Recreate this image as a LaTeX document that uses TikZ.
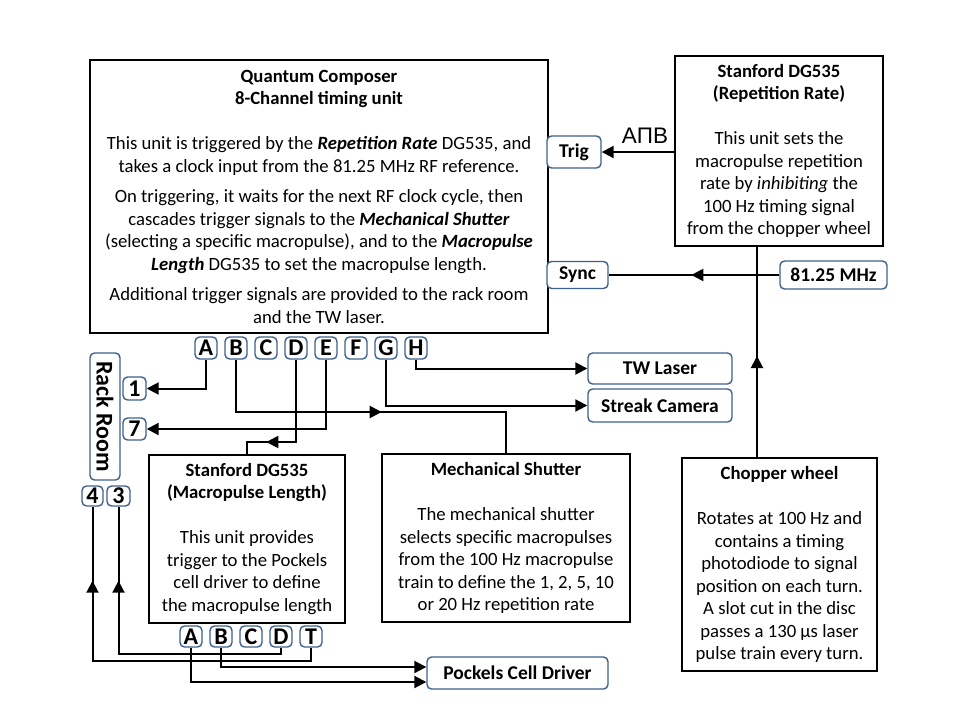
\documentclass[tikz,border=0pt]{standalone}
\usepackage{fontspec}
\setmainfont{Carlito}
\newfontfamily\lsans{Liberation Sans}
\usetikzlibrary{arrows.meta,decorations.markings,calc}
\definecolor{bcol}{RGB}{62,96,140}
\begin{document}
\begin{tikzpicture}[x=1pt,y=-1pt,
 box/.style={draw=black,line width=2pt,inner sep=0pt,align=center,font=\fontsize{18.7}{22.5}\selectfont},
 tag/.style={draw=bcol,line width=1.4pt,rounded corners=4.5pt,fill=white,inner sep=0pt,font=\bfseries\fontsize{19.5}{19.5}\selectfont},
 chan/.style={tag,minimum width=22pt,minimum height=22pt,font=\bfseries\fontsize{24}{24}\selectfont},
 wire/.style={line width=2pt},
 arr/.style={wire,-{Triangle[length=12pt,width=12pt]}},
 midarr/.style={wire,postaction={decorate},decoration={markings,mark=at position #1 with {\arrow{Triangle[length=12pt,width=12pt]}}}},
]
\useasboundingbox (0,0) rectangle (960,720);

% main boxes
\node[box,minimum width=458pt,minimum height=273pt] (QC) at (319,196.5) {%
\textbf{Quantum Composer}\\ \textbf{8-Channel timing unit}\\[22.5pt]
This unit is triggered by the \textbf{\textit{Repetition Rate}} DG535, and\\
takes a clock input from the 81.25 MHz RF reference.\\[8pt]
On triggering, it waits for the next RF clock cycle, then\\
cascades trigger signals to the \textbf{\textit{Mechanical Shutter}}\\
(selecting a specific macropulse), and to the \textbf{\textit{Macropulse}}\\
\textbf{\textit{Length}} DG535 to set the macropulse length.\\[8pt]
Additional trigger signals are provided to the rack room\\
and the TW laser.};

\node[box,minimum width=208pt,minimum height=190pt] (DGR) at (779,151) {%
\textbf{Stanford DG535}\\ \textbf{(Repetition Rate)}\\[22.5pt]
This unit sets the\\ macropulse repetition\\ rate by \textit{inhibiting} the\\
100 Hz timing signal\\ from the chopper wheel};

\node[box,minimum width=196pt,minimum height=168pt] (DGM) at (247,539) {%
\textbf{Stanford DG535}\\ \textbf{(Macropulse Length)}\\[22.5pt]
This unit provides\\ trigger to the Pockels\\ cell driver to define\\ the macropulse length};

\node[box,minimum width=248pt,minimum height=168pt] (MS) at (506,538) {%
\textbf{Mechanical Shutter}\\[22.5pt]
The mechanical shutter\\ selects specific macropulses\\ from the 100 Hz macropulse\\
train to define the 1, 2, 5, 10\\ or 20 Hz repetition rate};

\node[box,minimum width=195pt,minimum height=213pt] (CW) at (779.5,564.5) {%
\textbf{Chopper wheel}\\[22.5pt]
Rotates at 100 Hz and\\ contains a timing\\ photodiode to signal\\ position on each turn.\\
A slot cut in the disc\\ passes a 130 μs laser\\ pulse train every turn.};

% tags
\node[tag,minimum width=54pt,minimum height=32pt] (Trig) at (574,152) {Trig};
\node[tag,minimum width=61pt,minimum height=27pt] (Sync) at (577.5,275) {Sync};
\node[tag,minimum width=107pt,minimum height=28pt] (F81) at (833.5,275) {81.25 MHz};
\node[tag,minimum width=144pt,minimum height=31pt] (TW) at (660,368.5) {TW Laser};
\node[tag,minimum width=144pt,minimum height=33pt] (SC) at (660,405.5) {Streak Camera};
\node[tag,minimum width=181pt,minimum height=32pt] (PCD) at (517.5,673) {Pockels Cell Driver};
\node[tag,minimum width=127pt,minimum height=30pt,rotate=-90,font=\bfseries\fontsize{24}{24}\selectfont] (RR) at (105,416.5) {Rack Room};

% channel letters
\foreach \l [count=\i from 0] in {A,B,C,D,E,F,G,H}
  \node[chan] (q\l) at (206+30*\i,348) {\l};
\foreach \l/\x in {A/191,B/221,C/251,D/281,T/311}
  \node[chan,minimum height=21pt] (b\l) at (\x,636.5) {\l};
\node[chan,minimum width=23pt,minimum height=23pt] (r1) at (134.5,388.5) {1};
\node[chan,minimum width=23pt] (r7) at (134.5,429) {7};
\node[chan,minimum width=21pt,minimum height=20pt] (r4) at (92.5,496) {4};
\node[chan,minimum width=23pt,minimum height=20pt] (r3) at (118.5,496) {3};

% label
\node[font=\lsans\fontsize{22.5}{22.5}\selectfont,inner sep=0pt] (AB) at (645,136) {AΠB};

% connectors
\draw[arr] (Trig.east -| DGR.west) -- (Trig.east);
\draw[midarr=88pt] (F81.west) -- (Sync.east);
\coordinate (cwtop) at ($(CW.north)+(-22.5,0)$);
\draw[midarr=101pt] (cwtop) -- (cwtop |- DGR.south);

\draw[arr] (qA.south) |- (r1.east);
\draw[arr] (qE.south) |- (r7.east);
\draw[midarr=198pt] (qB.south) |- ($(MS.north)+(0,-41)$) -- (MS.north);
\draw[midarr=112pt] (qD.south) |- ($(DGM.north)+(0,-12)$) -- (DGM.north);
\draw[arr] (qG.south) |- (SC.west);
\draw[arr] (qH.south) |- (TW.west);

\draw[midarr=241.5pt] (bD.south) -- ++(0,6) -| (r3.south);
\draw[midarr=311.5pt] (bT.south) -- ++(0,13) -| (r4.south);
\draw[arr] (bB.south) |- ($(PCD.west)+(0,-6)$);
\draw[arr] (bA.south) |- ($(PCD.west)+(0,9)$);
\end{tikzpicture}
\end{document}
